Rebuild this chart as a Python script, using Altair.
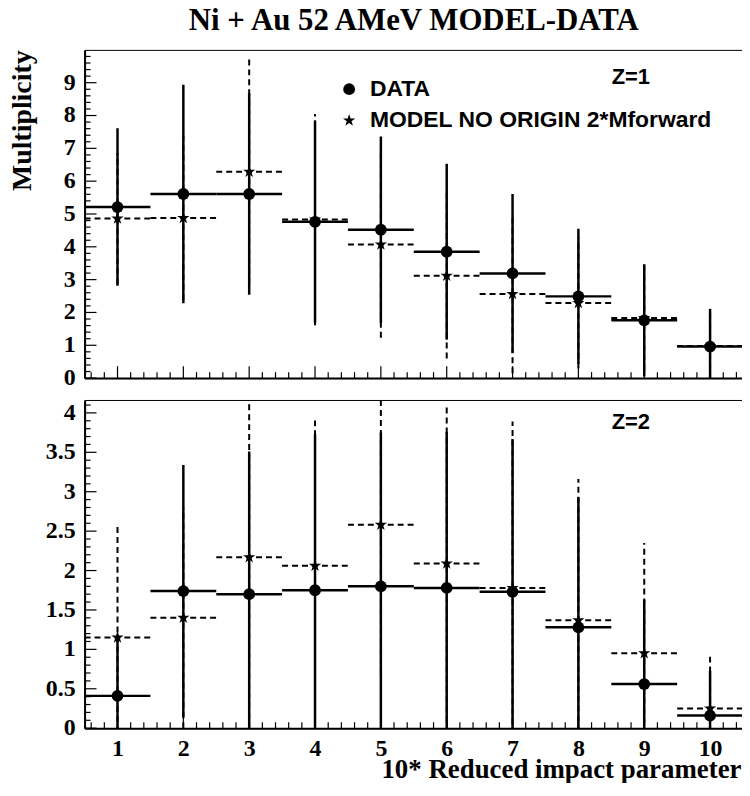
import altair as alt
import pandas as pd

# ---------------- data ----------------
bins = [1, 2, 3, 4, 5, 6, 7, 8, 9, 10]

z1_data = [5.21, 5.61, 5.61, 4.76, 4.52, 3.85, 3.19, 2.49, 1.76, 0.96]
z1_data_err = [2.40, 3.33, 3.07, 3.07, 2.84, 2.68, 2.42, 2.06, 1.71, 1.15]
z1_model = [4.86, 4.88, 6.29, 4.83, 4.07, 3.12, 2.56, 2.29, 1.83, 0.98]
z1_model_err = [2.00, 2.50, 3.43, 3.22, 2.84, 2.52, 2.41, 2.00, 1.60, 1.00]

z2_data = [0.41, 1.74, 1.70, 1.75, 1.80, 1.78, 1.73, 1.28, 0.56, 0.16]
z2_data_err = [0.75, 1.60, 1.81, 1.98, 1.95, 1.98, 1.94, 1.65, 1.07, 0.57]
z2_model = [1.15, 1.40, 2.17, 2.06, 2.58, 2.09, 1.78, 1.37, 0.95, 0.25]
z2_model_err = [1.45, 1.40, 2.30, 1.89, 1.90, 2.01, 2.11, 1.79, 1.40, 0.68]

series_names = ["DATA", "MODEL NO ORIGIN 2*Mforward"]

z1_ylabels = [0, 1, 2, 3, 4, 5, 6, 7, 8, 9]
z2_ylabels = [0, 0.5, 1, 1.5, 2, 2.5, 3, 3.5, 4]
z1_ymax = 10
z2_ymax = 4.164

# tick positions (axis decoration)
x_major = bins
x_minor = [round(0.2 * i, 2) for i in range(3, 53) if i % 5 != 0]
z1_minor = [round(0.2 * i, 2) for i in range(1, 50) if i % 5 != 0]
z2_minor = [round(0.1 * i, 2) for i in range(1, 42) if i % 5 != 0]

SERIF = "Liberation Serif"
SANS = "Liberation Sans"
W = 662
H = 330
STAR = ("M0,-1L0.225,-0.309L0.951,-0.309L0.363,0.118L0.588,0.809L0,0.382"
        "L-0.588,0.809L-0.363,0.118L-0.951,-0.309L-0.225,-0.309Z")


def panel(dy, de, my, me, ymax, ylabels, yminor, bottom, zlabel, zy):
    df = pd.DataFrame({"x": bins, "dy": dy, "de": de, "my": my, "me": me})

    xscale = alt.Scale(domain=[0.5, 10.5], nice=False, zero=False)
    yscale = alt.Scale(domain=[0, ymax], nice=False, zero=False)

    xaxis_kw = dict(values=x_major, ticks=False, grid=False, domain=True,
                    domainColor="black", domainWidth=2, format="d",
                    labelFont=SERIF, labelFontWeight="bold", labelFontSize=24,
                    labelColor="black", labelPadding=8)
    if bottom:
        xaxis_kw.update(labels=True, title="10* Reduced impact parameter",
                        titleFont=SERIF, titleFontWeight="bold", titleFontSize=27,
                        titleColor="black", titleAlign="right",
                        titleX=W - 2, titleY=50, titleBaseline="alphabetic")
    else:
        xaxis_kw.update(labels=False, title="")
    xaxis = alt.Axis(**xaxis_kw)

    yaxis_kw = dict(values=ylabels, ticks=False, grid=False, domain=True,
                    domainColor="black", domainWidth=2, labels=False)
    if not bottom:
        yaxis_kw.update(title="Multiplicity", titleFont=SERIF, titleFontWeight="bold",
                        titleFontSize=28, titleColor="black", titleAngle=270,
                        titleAlign="right", titleX=-54, titleY=0,
                        titleBaseline="alphabetic")
    else:
        yaxis_kw.update(title="")
    yaxis = alt.Axis(**yaxis_kw)

    def X(f):
        return alt.X(f, type="quantitative", scale=xscale, axis=xaxis)

    def Y(f):
        return alt.Y(f, type="quantitative", scale=yscale, axis=yaxis)

    base = alt.Chart(df).transform_calculate(
        xlo="datum.x - 0.5", xhi="datum.x + 0.5",
        dlo="datum.dy - datum.de", dhi="datum.dy + datum.de",
        mlo="datum.my - datum.me", mhi="datum.my + datum.me",
    )

    model_h = base.mark_rule(color="black", strokeWidth=2, strokeDash=[6, 4], clip=True).encode(
        x=X("xlo"), x2="xhi:Q", y=Y("my"))
    model_v = base.mark_rule(color="black", strokeWidth=2, strokeDash=[6, 4], clip=True).encode(
        x=X("x"), y=Y("mlo"), y2="mhi:Q")
    data_h = base.mark_rule(color="black", strokeWidth=2.5, clip=True).encode(
        x=X("xlo"), x2="xhi:Q", y=Y("dy"))
    data_v = base.mark_rule(color="black", strokeWidth=2.5, clip=True).encode(
        x=X("x"), y=Y("dlo"), y2="dhi:Q")
    stars = base.mark_point(shape=STAR, filled=True, color="black", opacity=1, size=170).encode(
        x=X("x"), y=Y("my"))
    dots = base.mark_point(shape="circle", filled=True, color="black", opacity=1, size=140).encode(
        x=X("x"), y=Y("dy"))

    lab_df = pd.DataFrame({"v": ylabels, "lab": [f"{v:g}" for v in ylabels]})
    ylab = alt.Chart(lab_df).mark_text(
        font=SERIF, fontWeight="bold", fontSize=24, color="black",
        align="right", baseline="middle").encode(
        y=Y("v"), text="lab:N", x=alt.value(-9))

    ymaj = alt.Chart(pd.DataFrame({"v": ylabels})).mark_rule(color="black", strokeWidth=1.2).encode(
        y=Y("v"), x=alt.value(0), x2=alt.value(12))
    ymin = alt.Chart(pd.DataFrame({"v": yminor})).mark_rule(color="black", strokeWidth=1.2).encode(
        y=Y("v"), x=alt.value(0), x2=alt.value(6))
    xmaj = alt.Chart(pd.DataFrame({"v": x_major})).mark_rule(color="black", strokeWidth=1.2).encode(
        x=X("v"), y=alt.value(H), y2=alt.value(H - 12))
    xmin = alt.Chart(pd.DataFrame({"v": x_minor})).mark_rule(color="black", strokeWidth=1.2).encode(
        x=X("v"), y=alt.value(H), y2=alt.value(H - 6))

    ztext = alt.Chart(pd.DataFrame({"t": [zlabel]})).mark_text(
        font=SANS, fontWeight="bold", fontSize=22, color="black",
        align="left", baseline="alphabetic").encode(
        text="t:N", x=alt.value(530), y=alt.value(zy))

    layers = [ymaj, ymin, xmaj, xmin, ylab, model_h, model_v, data_h, data_v, stars, dots, ztext]

    if not bottom:
        leg_df = pd.DataFrame({"t": series_names})
        leg_dot = alt.Chart(leg_df).transform_filter(alt.datum.t == series_names[0]).mark_point(
            shape="circle", filled=True, color="black", opacity=1, size=140).encode(
            x=alt.value(266), y=alt.value(39.5))
        leg_star = alt.Chart(leg_df).transform_filter(alt.datum.t == series_names[1]).mark_point(
            shape=STAR, filled=True, color="black", opacity=1, size=170).encode(
            x=alt.value(266), y=alt.value(71))
        leg_t1 = alt.Chart(leg_df).transform_filter(alt.datum.t == series_names[0]).mark_text(
            font=SANS, fontWeight="bold", fontSize=23, color="black", align="left",
            baseline="middle").encode(text="t:N", x=alt.value(287), y=alt.value(39.5))
        leg_t2 = alt.Chart(leg_df).transform_filter(alt.datum.t == series_names[1]).mark_text(
            font=SANS, fontWeight="bold", fontSize=23, color="black", align="left",
            baseline="middle").encode(text="t:N", x=alt.value(287), y=alt.value(70.5))
        layers += [leg_dot, leg_star, leg_t1, leg_t2]

    return alt.layer(*layers).properties(width=W, height=H)


top = panel(z1_data, z1_data_err, z1_model, z1_model_err, z1_ymax, z1_ylabels, z1_minor,
            False, "Z=1", 34).properties(
    title=alt.TitleParams("Ni + Au 52 AMeV MODEL-DATA", font=SERIF, fontSize=31,
                          fontWeight="bold", color="black", anchor="middle",
                          baseline="alphabetic", offset=-11))
bot = panel(z2_data, z2_data_err, z2_model, z2_model_err, z2_ymax, z2_ylabels, z2_minor,
            True, "Z=2", 29)

chart = alt.vconcat(
    top, bot, spacing=8, background="white",
    padding={"left": 0, "top": -6, "right": -2, "bottom": -3},
).configure_view(stroke="black", strokeWidth=1).configure_axis(
    labelFont=SERIF, labelFontWeight="bold", labelFontSize=24, labelColor="black")

chart.save("out.html", embed_options={"renderer": "svg", "actions": False})
